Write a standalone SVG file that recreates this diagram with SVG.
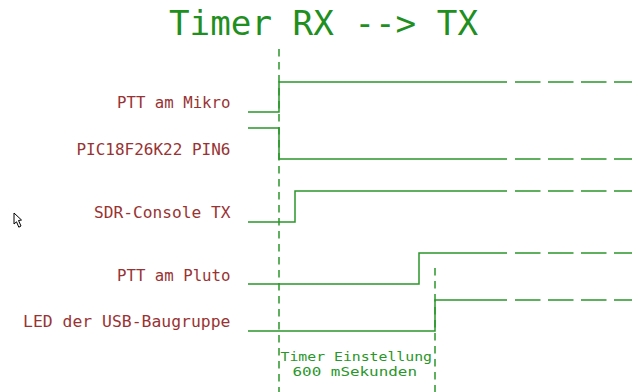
<svg xmlns="http://www.w3.org/2000/svg" width="632" height="392" viewBox="0 0 632 392">
<style>
text{font-family:"DejaVu Sans Mono","Liberation Mono",monospace;}
.lbl{font-size:15px;fill:#993333;text-anchor:end;}
.title{font-size:33px;fill:#1f8f1f;}
.note{font-size:12.5px;fill:#2a962a;}
.sig{fill:none;stroke:#2a962a;stroke-width:1.5;}
.tail{fill:none;stroke:#2a962a;stroke-width:1.5;stroke-dasharray:25.5 7.5;}
.mark{fill:none;stroke:#2a962a;stroke-width:1.5;stroke-dasharray:7.5 5.5;}
</style>
<rect width="632" height="392" fill="#ffffff"/>
<g id="title">
<text class="title" x="169" y="35" textLength="309" lengthAdjust="spacingAndGlyphs">Timer RX --&gt; TX</text>
</g>
<g id="connectors">
<path class="mark" d="M279,49 V392"/>
<path class="mark" d="M435,268 V392"/>
</g>
<g id="ptt-mikro">
<text class="lbl" x="230.5" y="108" textLength="113.5" lengthAdjust="spacingAndGlyphs">PTT am Mikro</text>
<path class="sig" d="M248,112 H279 V82 H507"/>
<path class="tail" d="M515,82 H640"/>
</g>
<g id="pic-pin6">
<text class="lbl" x="230.5" y="155" textLength="154" lengthAdjust="spacingAndGlyphs">PIC18F26K22 PIN6</text>
<path class="sig" d="M248,128 H279 V159 H507"/>
<path class="tail" d="M515,159 H640"/>
</g>
<g id="sdr-console">
<text class="lbl" x="230.5" y="218" textLength="136.5" lengthAdjust="spacingAndGlyphs">SDR-Console TX</text>
<path class="sig" d="M248,222 H295 V191 H507"/>
<path class="tail" d="M515,191 H640"/>
</g>
<g id="ptt-pluto">
<text class="lbl" x="230.5" y="281" textLength="113.5" lengthAdjust="spacingAndGlyphs">PTT am Pluto</text>
<path class="sig" d="M248,284 H419 V253 H507"/>
<path class="tail" d="M515,253 H640"/>
</g>
<g id="led-usb">
<text class="lbl" x="230.5" y="327" textLength="207.5" lengthAdjust="spacingAndGlyphs">LED der USB-Baugruppe</text>
<path class="sig" d="M248,331 H435 V300 H507"/>
<path class="tail" d="M515,300 H640"/>
</g>
<g id="timer-note">
<text class="note" x="280.5" y="360.5" textLength="151.5" lengthAdjust="spacingAndGlyphs">Timer Einstellung</text>
<text class="note" x="292.5" y="375.5" textLength="124.5" lengthAdjust="spacingAndGlyphs">600 mSekunden</text>
</g>
<g id="cursor">
<path d="M14,213 L21.5,220 L18.5,220.5 L21,226 L18.8,227.2 L16.5,221.8 L14,224 Z" fill="#ffffff" stroke="#000000" stroke-width="1"/>
</g>
</svg>
